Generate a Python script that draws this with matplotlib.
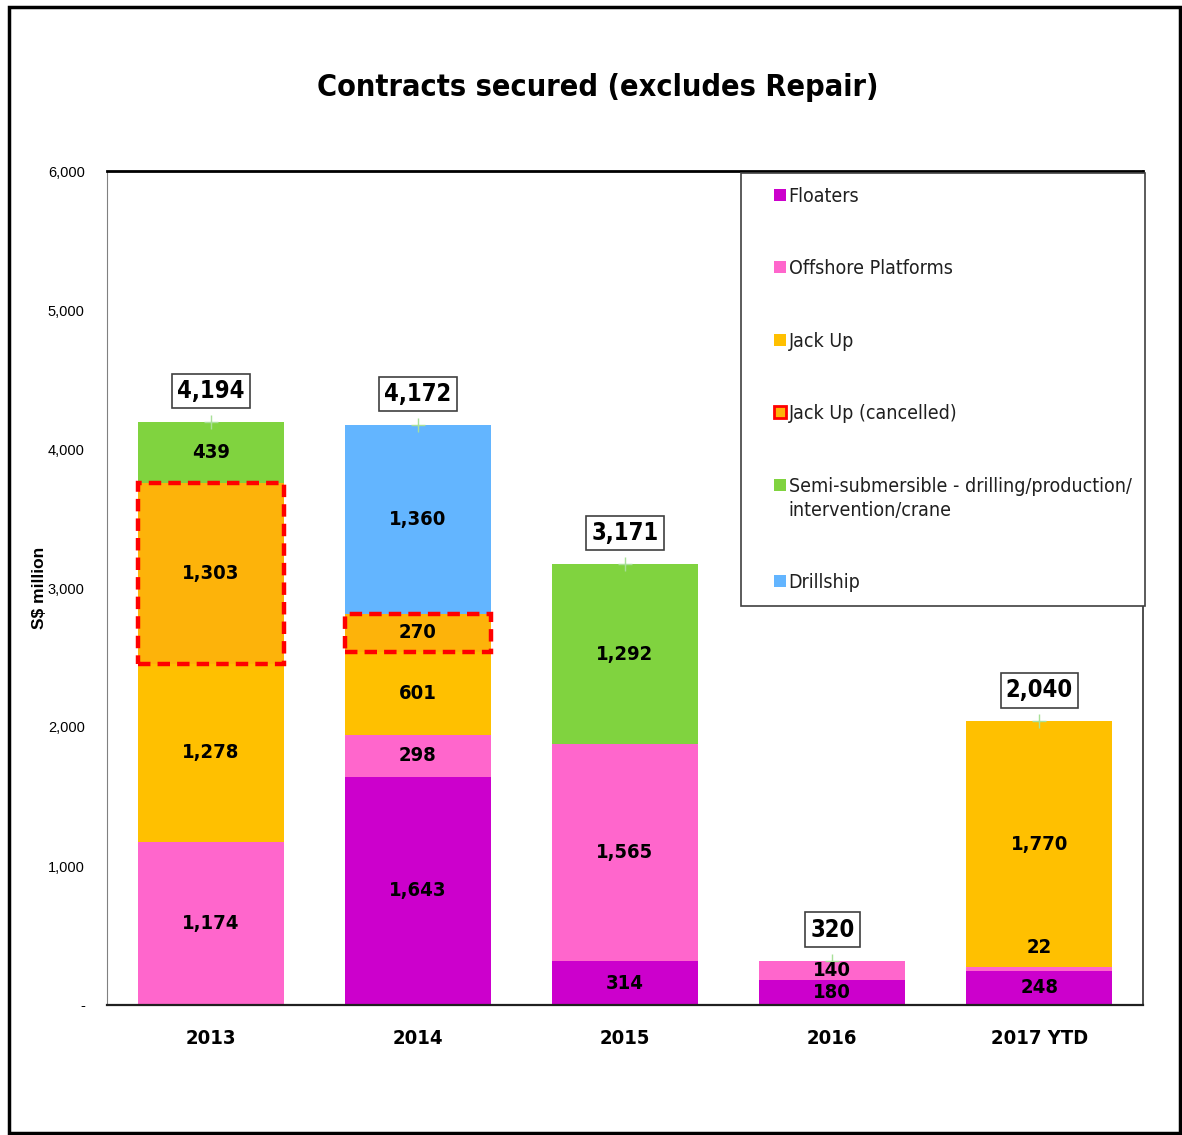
import matplotlib
matplotlib.use("Agg")
import matplotlib.pyplot as plt
import matplotlib.font_manager as fm
import matplotlib.patches as mpatches
from matplotlib.legend_handler import HandlerPatch
import numpy as np

# Pick a narrow font if one is installed, else fall back
narrow = [f for f in fm.fontManager.ttflist
          if 'Narrow' in f.name or 'Condensed' in f.name
          or f.stretch in ('condensed', 'semi-condensed', 'extra-condensed', 'ultra-condensed')]
if narrow:
    NARROW, STRETCH, SCALE = narrow[0].name, narrow[0].stretch, 1.0
else:
    NARROW, STRETCH, SCALE = 'Liberation Sans', 'normal', 0.85
names = {f.name for f in fm.fontManager.ttflist}
WIDE = 'Liberation Sans' if 'Liberation Sans' in names else 'DejaVu Sans'
plt.rcParams['font.family'] = [NARROW, 'DejaVu Sans']
plt.rcParams['font.stretch'] = STRETCH

# Data (S$ million)
years = ['2013', '2014', '2015', '2016', '2017 YTD']
floaters = [0, 1643, 314, 180, 248]
offshore = [1174, 298, 1565, 140, 22]
jack_up = [1278, 601, 0, 0, 1770]
jack_up_cancelled = [1303, 270, 0, 0, 0]
semi_sub = [439, 0, 1292, 0, 0]
drillship = [0, 1360, 0, 0, 0]

series = [
    ('Floaters', floaters, '#CC00CC'),
    ('Offshore Platforms', offshore, '#FF66CC'),
    ('Jack Up', jack_up, '#FFC000'),
    ('Jack Up (cancelled)', jack_up_cancelled, '#FDB30A'),
    ('Semi-submersible - drilling/production/\nintervention/crane', semi_sub, '#80D33F'),
    ('Drillship', drillship, '#63B5FF'),
]

W, H = 1182, 1135
fig = plt.figure(figsize=(W / 100, H / 100), dpi=100, facecolor='white')
ax = fig.add_axes([107 / W, 1 - 1005 / H, (1143 - 107) / W, (1005 - 171) / H])

x = np.arange(len(years))
width = 0.705
bottom = np.zeros(len(years))
lab_fs = 14.5 * SCALE

for name, vals, color in series:
    vals = np.array(vals, dtype=float)
    if 'cancelled' in name:
        bars = ax.bar(x, vals, width, bottom=bottom, color=color,
                      edgecolor='#FF0000', linewidth=3.2, linestyle=(0, (2.8, 1.6)),
                      zorder=3)
        for b, v in zip(bars, vals):
            if v <= 0:
                b.set_edgecolor('none')
    else:
        bars = ax.bar(x, vals, width, bottom=bottom, color=color,
                      edgecolor='none', zorder=2)
    for i, v in enumerate(vals):
        if v <= 0:
            continue
        if v < 100 and i == 4:
            # too thin to hold the label, put it just above
            ax.annotate(f'{int(v):,}', xy=(x[i], bottom[i] + v), xytext=(0, 20),
                        textcoords='offset pixels', ha='center', va='center',
                        fontsize=lab_fs, fontweight='bold', zorder=5)
        else:
            ax.text(x[i], bottom[i] + v / 2, f'{int(v):,}', ha='center', va='center',
                    fontsize=lab_fs, fontweight='bold', zorder=5)
    bottom += vals

totals = bottom.copy()
ax.plot(x, totals, linestyle='none', marker='+', color='#A8E098',
        markersize=10, markeredgewidth=1, zorder=4)
for i, t in enumerate(totals):
    ax.annotate(f'{int(t):,}', xy=(x[i], t), xytext=(0, 31), textcoords='offset pixels',
                ha='center', va='center', fontsize=17 * SCALE, fontweight='bold', zorder=6,
                bbox=dict(boxstyle='square,pad=0.22', fc='white', ec='#404040', lw=1.2))

ax.set_xlim(-0.5, len(years) - 0.5)
ax.set_ylim(0, 6000)
ax.set_yticks(np.arange(0, 6001, 1000))
ax.set_yticklabels(['-' if v == 0 else f'{v:,}' for v in range(0, 6001, 1000)],
                   fontsize=10.5, family=WIDE, stretch='normal')
ax.set_xticks(x)
ax.set_xticklabels(years, fontsize=14.5 * SCALE, fontweight='bold')
ax.tick_params(axis='y', length=0, pad=16)
ax.tick_params(axis='x', length=0, pad=17)

ax.spines['top'].set_linewidth(2)
ax.spines['top'].set_color('black')
ax.spines['left'].set_linewidth(0.8)
ax.spines['left'].set_color('#808080')
ax.spines['right'].set_linewidth(1.3)
ax.spines['right'].set_color('#404040')
ax.spines['bottom'].set_linewidth(1.6)
ax.spines['bottom'].set_color('#202020')


# small square key at the right end of a wider handle box,
# lifted to the first line for two-line labels
def square_key(legend, orig_handle, xdescent, ydescent, width, height, fontsize):
    s = 12 / fig.dpi * 72
    lift = fontsize * 0.72 if '\n' in orig_handle.get_label() else 0
    return mpatches.Rectangle((width - s - xdescent, height / 2 - s / 2 - ydescent + lift), s, s)


handles = []
for name, vals, color in series:
    if 'cancelled' in name:
        handles.append(mpatches.Patch(facecolor=color, edgecolor='#FF0000', linewidth=2, label=name))
    else:
        handles.append(mpatches.Patch(facecolor=color, edgecolor='none', label=name))
leg_fs = 14 * SCALE
leg = ax.legend(handles=handles, loc='upper left',
                bbox_to_anchor=(741 / W, 1 - 617 / H, (1145 - 741) / W, (617 - 173) / H),
                bbox_transform=fig.transFigure, mode='expand',
                handler_map={mpatches.Patch: HandlerPatch(patch_func=square_key)},
                fontsize=leg_fs, frameon=True, fancybox=False, edgecolor='#404040',
                framealpha=1, borderpad=0.7, labelspacing=2.75, handlelength=1.6,
                handleheight=0.6, handletextpad=0.15, borderaxespad=0)
leg.get_frame().set_linewidth(1.2)
for t in leg.get_texts():
    t.set_color('#202020')
    t.set_linespacing(1.35)

fig.text(598 / W, 1 - 88 / H, 'Contracts secured (excludes Repair)', ha='center', va='center',
         fontsize=22 * SCALE, fontweight='bold')
fig.text(40 / W, 1 - 588 / H, 'S$ million', ha='center', va='center', rotation=90,
         fontsize=12.5, fontweight='bold', family=WIDE, stretch='normal')

# outer frame
fig.patches.append(mpatches.Rectangle((9 / W, 2 / H), (1180 - 9) / W, (1133 - 7) / H,
                                      transform=fig.transFigure, fill=False,
                                      edgecolor='black', linewidth=2.5))

fig.savefig('out.png', dpi=100, facecolor='white')
